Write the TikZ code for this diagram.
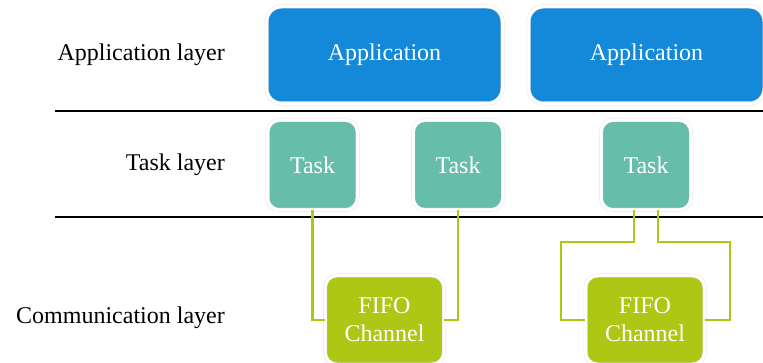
\documentclass[tikz,border=0pt]{standalone}
\usepackage{fontspec}
\setmainfont{Liberation Serif}
\definecolor{appblue}{HTML}{1489D9}
\definecolor{taskgreen}{HTML}{66BDAB}
\definecolor{fifolime}{HTML}{AEC614}
\begin{document}
\begin{tikzpicture}[x=1pt, y=-1pt]
  \tikzset{
    box_node/.style={rectangle, draw=black!10, double=white, double distance=3pt, line width=0.5pt, text=white, inner sep=0pt, font=\fontsize{24}{28}\selectfont},
    app_node/.style={box_node, fill=appblue, rounded corners=15pt, minimum width=236pt, minimum height=97pt},
    task_node/.style={box_node, fill=taskgreen, rounded corners=12pt, minimum width=90pt, minimum height=90pt},
    fifo_node/.style={box_node, fill=fifolime, rounded corners=12pt, minimum width=119pt, minimum height=89pt, align=center},
    layer_label/.style={anchor=east, inner sep=0pt, font=\fontsize{24}{28}\selectfont},
    layer_line/.style={line width=2.8pt, black},
    link/.style={line width=2.6pt, fifolime}
  }

  % Bounding box de la figura
  \useasboundingbox (0,0) rectangle (763,363);

  % Etiquetas de las capas
  \node[layer_label] (lapp) at (225,55) {Application layer};
  \node[layer_label] (ltask) at (225,165) {Task layer};
  \node[layer_label] (lcomm) at (225,318) {Communication layer};

  % Separadores de capas
  \coordinate (sep1l) at (55,111);
  \coordinate (sep1r) at (763,111);
  \coordinate (sep2l) at (55,217);
  \coordinate (sep2r) at (763,217);
  \draw[layer_line] (sep1l) -- (sep1r);
  \draw[layer_line] (sep2l) -- (sep2r);

  % Aplicaciones
  \node[app_node] (app1) at (384.5,55) {Application};
  \node[app_node] (app2) at (646.5,55) {Application};

  % Tareas
  \node[task_node] (task1) at (312.5,165) {Task};
  \node[task_node] (task2) at (458,165) {Task};
  \node[task_node] (task3) at (646,165) {Task};

  % Canales FIFO
  \node[fifo_node] (fifo1) at (384.5,320) {FIFO\\Channel};
  \node[fifo_node] (fifo2) at (645,320) {FIFO\\Channel};

  % Conexiones tarea - canal
  \draw[link] (task1.south) |- (fifo1.west);
  \draw[link] (task2.south) |- (fifo1.east);

  \coordinate (t3l) at ([xshift=-12pt]task3.south);
  \coordinate (t3r) at ([xshift=12pt]task3.south);
  \coordinate (bendl) at (561,242);
  \coordinate (bendr) at (730,242);
  \draw[link] (t3l) |- (bendl) |- (fifo2.west);
  \draw[link] (t3r) |- (bendr) |- (fifo2.east);
\end{tikzpicture}
\end{document}
